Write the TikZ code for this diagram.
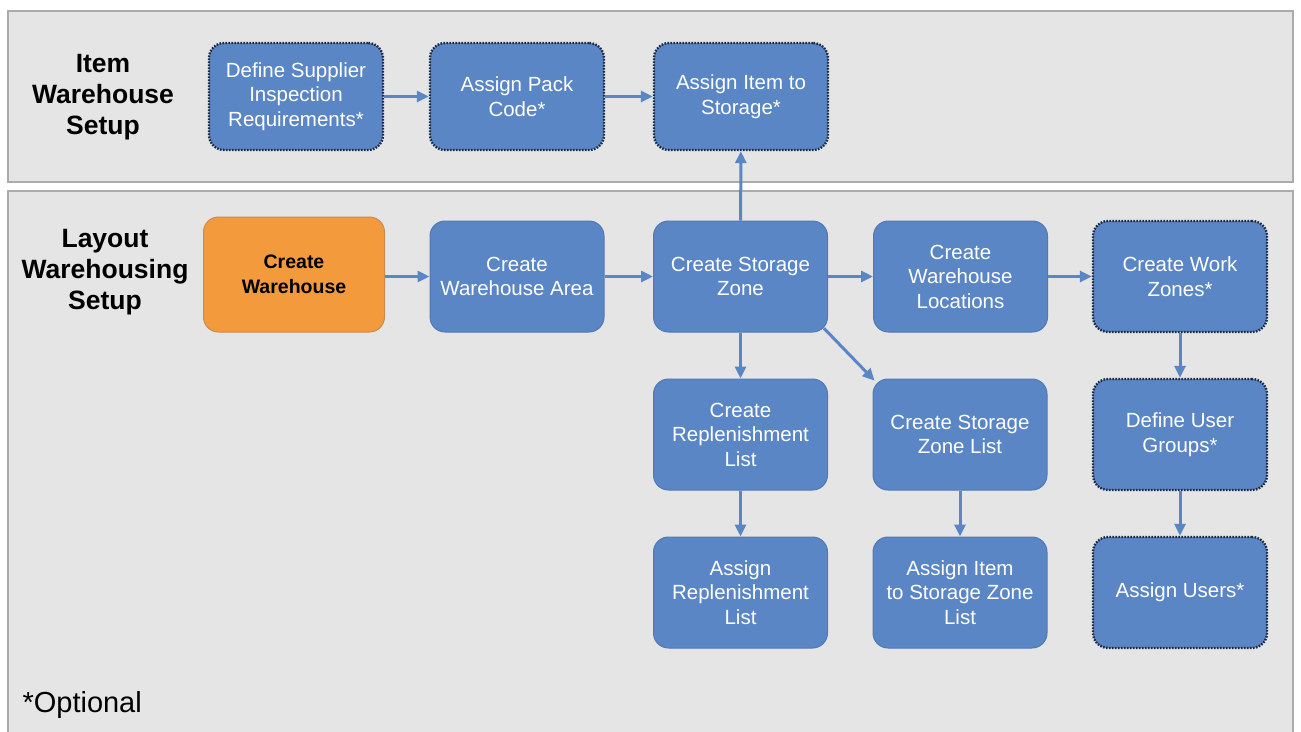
\documentclass[tikz,border=0pt]{standalone}
\usepackage{fontspec}
\setmainfont{Liberation Sans}
\usetikzlibrary{arrows.meta,calc}
\definecolor{boxblue}{HTML}{5A86C5}
\definecolor{boxedge}{HTML}{5079B6}
\definecolor{dotedge}{HTML}{1E2A45}
\definecolor{orangefill}{HTML}{F39A3C}
\definecolor{orangeedge}{HTML}{C98B50}
\definecolor{panelfill}{HTML}{E5E5E5}
\definecolor{paneledge}{HTML}{ABABAB}
\tikzset{
  panel/.style={draw=paneledge, fill=panelfill, line width=1.6pt},
  stepbox/.style={draw=boxedge, fill=boxblue, line width=1pt, rounded corners=15pt,
    minimum width=174pt, minimum height=111pt, text=white, align=center,
    font=\fontsize{20.5}{24.5}\selectfont, inner sep=2pt},
  optbox/.style={stepbox, draw=dotedge, line width=2.4pt, dash pattern=on 1.6pt off 1.4pt},
  startbox/.style={stepbox, draw=orangeedge, fill=orangefill, text=black,
    minimum width=181pt, minimum height=115pt, font=\bfseries\fontsize{19.5}{24.5}\selectfont},
  sectlabel/.style={align=center, font=\bfseries\fontsize{26.5}{31}\selectfont, text=black},
  flow/.style={draw=boxblue, line width=3pt, -{Triangle[length=12pt,width=11pt]}}
}
\begin{document}
\begin{tikzpicture}[x=1pt,y=-1pt]
\useasboundingbox (0,0) rectangle (1301,731);
\fill[white] (0,0) rectangle (1301,731);
% panels
\path[panel] (8,11) rectangle (1293,182);
\path[panel] (8,191) rectangle (1293,745);
% section labels
\node[sectlabel] (lblitem) at (103,97) {Item\\Warehouse\\Setup};
\node[sectlabel] (lbllayout) at (105,272) {Layout\\Warehousing\\Setup};
\node[anchor=west, font=\fontsize{29}{32}\selectfont] (optional) at (19,705) {*Optional};
% top row
\node[optbox, minimum height=107pt] (dsir) at (296,96.5) {Define Supplier\\Inspection\\Requirements*};
\node[optbox, minimum height=107pt] (apc) at (517,96.5) {Assign Pack\\Code*};
\node[optbox, minimum height=107pt] (ais) at (741,96.5) {Assign Item to\\Storage*};
% layout row
\node[startbox] (cw) at (294,274.5) {Create\\Warehouse};
\node[stepbox] (cwa) at (517,276.5) {Create\\Warehouse Area};
\node[stepbox] (csz) at (740.5,276.5) {Create Storage\\Zone};
\node[stepbox] (cwl) at (960.5,276.5) {Create\\Warehouse\\Locations};
\node[optbox] (cwz) at (1180,276.5) {Create Work\\Zones*};
% second row
\node[stepbox] (crl) at (740.5,434.5) {Create\\Replenishment\\List};
\node[stepbox] (cszl) at (960,434.5) {Create Storage\\Zone List};
\node[optbox] (dug) at (1180,434.5) {Define User\\Groups*};
% third row
\node[stepbox] (arl) at (740.5,592.5) {Assign\\Replenishment\\List};
\node[stepbox] (aiszl) at (960,592.5) {Assign Item\\to Storage Zone\\List};
\node[optbox] (au) at (1180,592.5) {Assign Users*};
% connectors
\draw[flow] (dsir) -- (apc);
\draw[flow] (apc) -- (ais);
\draw[flow] (cw.east |- cwa.east) -- (cwa.west);
\draw[flow] (cwa) -- (csz);
\draw[flow] (csz) -- (cwl);
\draw[flow] (cwl) -- (cwz);
\draw[flow] (csz) -- (ais);
\draw[flow] (csz) -- (crl);
\draw[flow] (crl) -- (arl);
\draw[flow, shorten <=-6pt, shorten >=-3pt] (csz.south east) -- (cszl.north west);
\draw[flow] (cszl) -- (aiszl);
\draw[flow] (cwz) -- (dug);
\draw[flow] (dug) -- (au);
\end{tikzpicture}
\end{document}
